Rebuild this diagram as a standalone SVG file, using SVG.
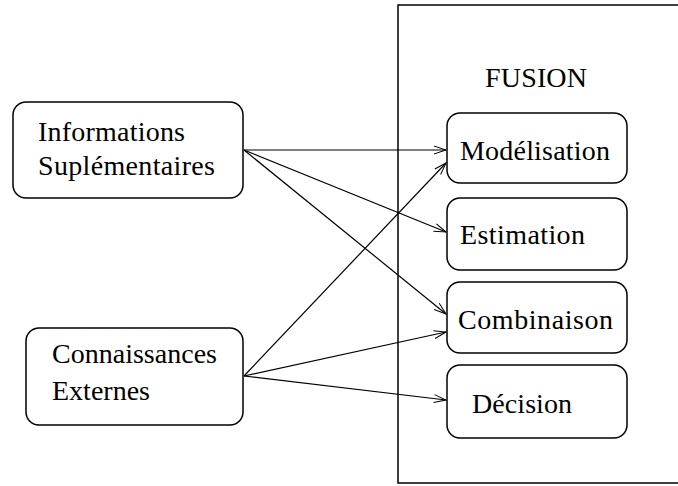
<svg xmlns="http://www.w3.org/2000/svg" width="678" height="486" viewBox="0 0 678 486">
<style>
.box{fill:#fff;stroke:#000;stroke-width:1.5}
.frame{fill:none;stroke:#000;stroke-width:1.5}
.t{font-family:"Liberation Serif","Times New Roman",serif;font-size:28px;fill:#000}
.c{fill:none;stroke:#000;stroke-width:1.2}
</style>
<defs>
<marker id="arr" markerWidth="14" markerHeight="10" refX="13" refY="5" orient="auto" markerUnits="userSpaceOnUse">
<path d="M1,1 L13,5 L1,9" fill="none" stroke="#000" stroke-width="1"/>
</marker>
</defs>
<rect width="678" height="486" fill="#fff"/>
<g id="fusion">
<rect class="frame" x="398" y="5" width="300" height="478"/>
<text class="t" x="485" y="87" textLength="102">FUSION</text>
</g>
<g id="informations">
<rect class="box" x="13" y="102" width="230" height="96" rx="13"/>
<text class="t" x="38" y="141" textLength="147">Informations</text>
<text class="t" x="38" y="175" textLength="177">Suplémentaires</text>
</g>
<g id="connaissances">
<rect class="box" x="26" y="328" width="217" height="97" rx="13"/>
<text class="t" x="52" y="363" textLength="165">Connaissances</text>
<text class="t" x="52" y="400">Externes</text>
</g>
<g id="modelisation">
<rect class="box" x="447" y="113" width="180" height="70" rx="13"/>
<text class="t" x="460" y="160" textLength="150">Modélisation</text>
</g>
<g id="estimation">
<rect class="box" x="447" y="198" width="180" height="72" rx="13"/>
<text class="t" x="460" y="244" textLength="125">Estimation</text>
</g>
<g id="combinaison">
<rect class="box" x="447" y="282" width="180" height="71" rx="13"/>
<text class="t" x="458" y="329" textLength="155">Combinaison</text>
</g>
<g id="decision">
<rect class="box" x="447" y="365" width="180" height="73" rx="13"/>
<text class="t" x="472" y="413" textLength="100">Décision</text>
</g>
<g id="connectors">
<line class="c" x1="244" y1="150" x2="446" y2="150" marker-end="url(#arr)"/>
<line class="c" x1="244" y1="150" x2="446" y2="232" marker-end="url(#arr)"/>
<line class="c" x1="244" y1="150" x2="446" y2="314" marker-end="url(#arr)"/>
<line class="c" x1="244" y1="376" x2="446" y2="163" marker-end="url(#arr)"/>
<line class="c" x1="244" y1="376" x2="446" y2="332" marker-end="url(#arr)"/>
<line class="c" x1="244" y1="376" x2="446" y2="400" marker-end="url(#arr)"/>
</g>
</svg>
